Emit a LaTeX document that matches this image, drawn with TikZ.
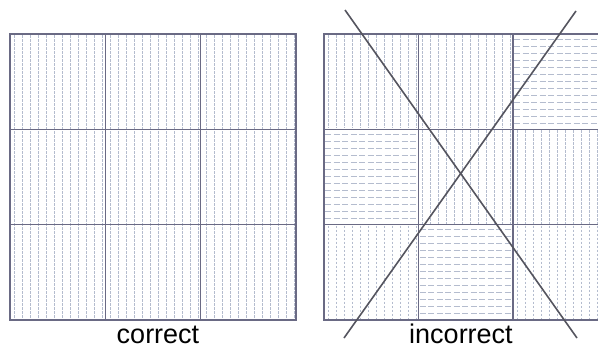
\documentclass[tikz,border=0pt]{standalone}
\usepackage{fontspec}
\setmainfont{Liberation Sans}
\definecolor{gridblue}{HTML}{6A6A84}
\definecolor{hatchblue}{HTML}{B4BCCE}
\definecolor{crossgray}{HTML}{55555F}

\begin{document}
\begin{tikzpicture}[x=1pt, y=-1pt,
  gridline/.style={draw=gridblue, line width=1.2pt},
  vhatch/.style={draw=hatchblue, line width=0.8pt, dash pattern=on 2.5pt off 1.5pt},
  hhatch/.style={draw=hatchblue, line width=0.8pt, dash pattern=on 6pt off 2.5pt},
  cross/.style={draw=crossgray, line width=1.6pt},
  caption/.style={font=\fontsize{27}{30}\selectfont, inner sep=0pt, anchor=base}]
\useasboundingbox (0,0) rectangle (598,348);

% left grid: every cell hatched the same way
\foreach \x in {14,22,...,294}
  \draw[vhatch] (\x,35) -- (\x,319);
\draw[gridline] (10,34) rectangle (296,320);
\foreach \x in {105.3,200.7}
  \draw[gridline] (\x,34) -- (\x,320);
\foreach \y in {129.3,224.7}
  \draw[gridline] (10,\y) -- (296,\y);

% right grid: three cells turned the wrong way
\foreach \cx/\cy/\w in {324/34/94.5, 418.5/34/94.5, 418.5/129.3/94.5,
                        513/129.3/85, 324/224.7/94.5, 513/224.7/85}
  \foreach \i in {4,12,...,\w}
    \draw[vhatch] (\cx+\i,\cy+1) -- (\cx+\i,\cy+94.3);
\foreach \cx/\cy/\w in {513/34/85, 324/129.3/94.5, 418.5/224.7/94.5}
  \foreach \j in {5,12,...,92}
    \draw[hhatch] (\cx+1,\cy+\j) -- (\cx+\w-1,\cy+\j);
\draw[gridline] (598,34) -- (324,34) -- (324,320) -- (598,320);
\foreach \x in {418.5,513}
  \draw[gridline] (\x,34) -- (\x,320);
\foreach \y in {129.3,224.7}
  \draw[gridline] (324,\y) -- (598,\y);

\coordinate (crossTL) at (345,10);
\coordinate (crossTR) at (576,11);
\coordinate (crossBL) at (344,338);
\coordinate (crossBR) at (577,338);
\draw[cross] (crossTL) -- (crossBR);
\draw[cross] (crossTR) -- (crossBL);

\node[caption] (good) at (158,343) {correct};
\node[caption] (bad)  at (461,343) {incorrect};
\end{tikzpicture}
\end{document}
